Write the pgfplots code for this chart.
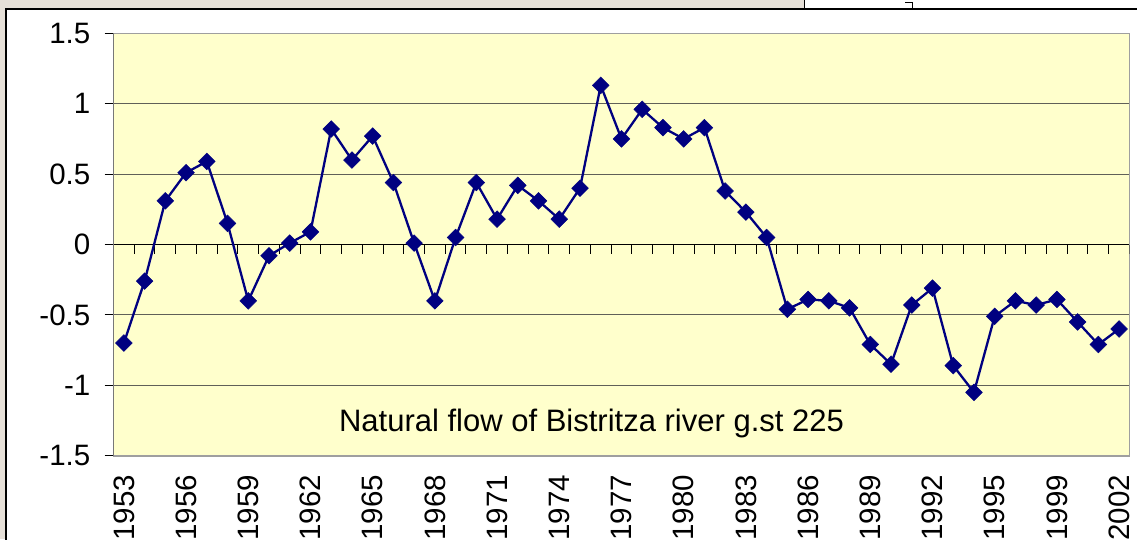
\documentclass[border=0pt]{standalone}
\usepackage{pgfplots}
\pgfplotsset{compat=1.18}
\usepackage{fontspec}
\setmainfont{Liberation Sans}
\definecolor{plotyellow}{HTML}{FFFFCC}
\definecolor{navyline}{HTML}{000080}
\definecolor{gridc}{HTML}{606058}
\definecolor{bgbeige}{HTML}{E6E0D8}
\begin{document}
\begin{tikzpicture}
\useasboundingbox (0pt,0pt) rectangle (1137pt,539pt);
\clip (0pt,0pt) rectangle (1137pt,539pt);
\fill[bgbeige] (0pt,0pt) rectangle (1137pt,539pt);
\fill[white] (6pt,-10pt) rectangle (1150pt,530pt);
\draw[black, line width=1.3pt] (6pt,-10pt) -- (6pt,530pt) -- (1150pt,530pt);
\fill[white] (804pt,530.6pt) rectangle (1150pt,545pt);
\draw[black, line width=1pt] (804pt,530pt) -- (804pt,545pt);
\draw[black, line width=1pt] (912pt,530pt) -- (912pt,536pt) -- (905pt,536pt);
\begin{axis}[
  at={(113.5pt,83.3pt)}, anchor=south west,
  scale only axis, width=1016pt, height=422.4pt,
  xmin=-0.5, xmax=48.5, ymin=-1.5, ymax=1.5,
  axis background/.style={fill=plotyellow},
  axis line style={draw=gray!75, line width=1.6pt},
  ytick={-1.5,-1,-0.5,0,0.5,1,1.5},
  yticklabels={-1.5,-1,-0.5,0,0.5,1,1.5},
  xtick={0,3,...,48},
  xticklabels={1953,1956,1959,1962,1965,1968,1971,1974,1977,1980,1983,1986,1989,1992,1995,1999,2002},
  ymajorgrids, grid style={gridc, line width=1pt},
  ytick pos=left, xtick pos=left,
  tick align=outside,
  major tick length=9pt,
  ytick style={black, line width=1pt},
  xtick style={draw=none},
  tick label style={font=\fontsize{29.5}{30}\selectfont},
  yticklabel style={anchor=east, inner sep=0pt, xshift=-14pt},
  xticklabel style={yshift=-7pt, rotate=90, anchor=east, inner sep=0pt, xshift=-3pt},
]
\draw[black, line width=1.2pt] (axis cs:-0.5,0) -- (axis cs:48.5,0);
\pgfplotsinvokeforeach{0,...,48}{\draw[black, line width=1pt] (axis cs:#1+0.5,0) -- ++(0pt,-9pt);}
\draw[black!80, line width=1.4pt] (axis cs:-0.5,-1.5) -- (axis cs:-0.5,1.5);
\addplot[navyline, line width=2.3pt, mark=square*, mark size=5.9pt,
  mark options={rotate=45, fill=navyline, draw=navyline, line width=0.5pt}] table {
x y
0 -0.70
1 -0.26
2 0.31
3 0.51
4 0.59
5 0.15
6 -0.40
7 -0.08
8 0.01
9 0.09
10 0.82
11 0.60
12 0.77
13 0.44
14 0.01
15 -0.40
16 0.05
17 0.44
18 0.18
19 0.42
20 0.31
21 0.18
22 0.40
23 1.13
24 0.75
25 0.96
26 0.83
27 0.75
28 0.83
29 0.38
30 0.23
31 0.05
32 -0.46
33 -0.39
34 -0.40
35 -0.45
36 -0.71
37 -0.85
38 -0.43
39 -0.31
40 -0.86
41 -1.05
42 -0.51
43 -0.40
44 -0.43
45 -0.39
46 -0.55
47 -0.71
48 -0.60
};
\end{axis}
\node[anchor=base, font=\fontsize{31}{31}\selectfont, inner sep=0pt] at (591.5pt,107.3pt) {Natural flow of Bistritza river g.st 225};
\end{tikzpicture}
\end{document}
